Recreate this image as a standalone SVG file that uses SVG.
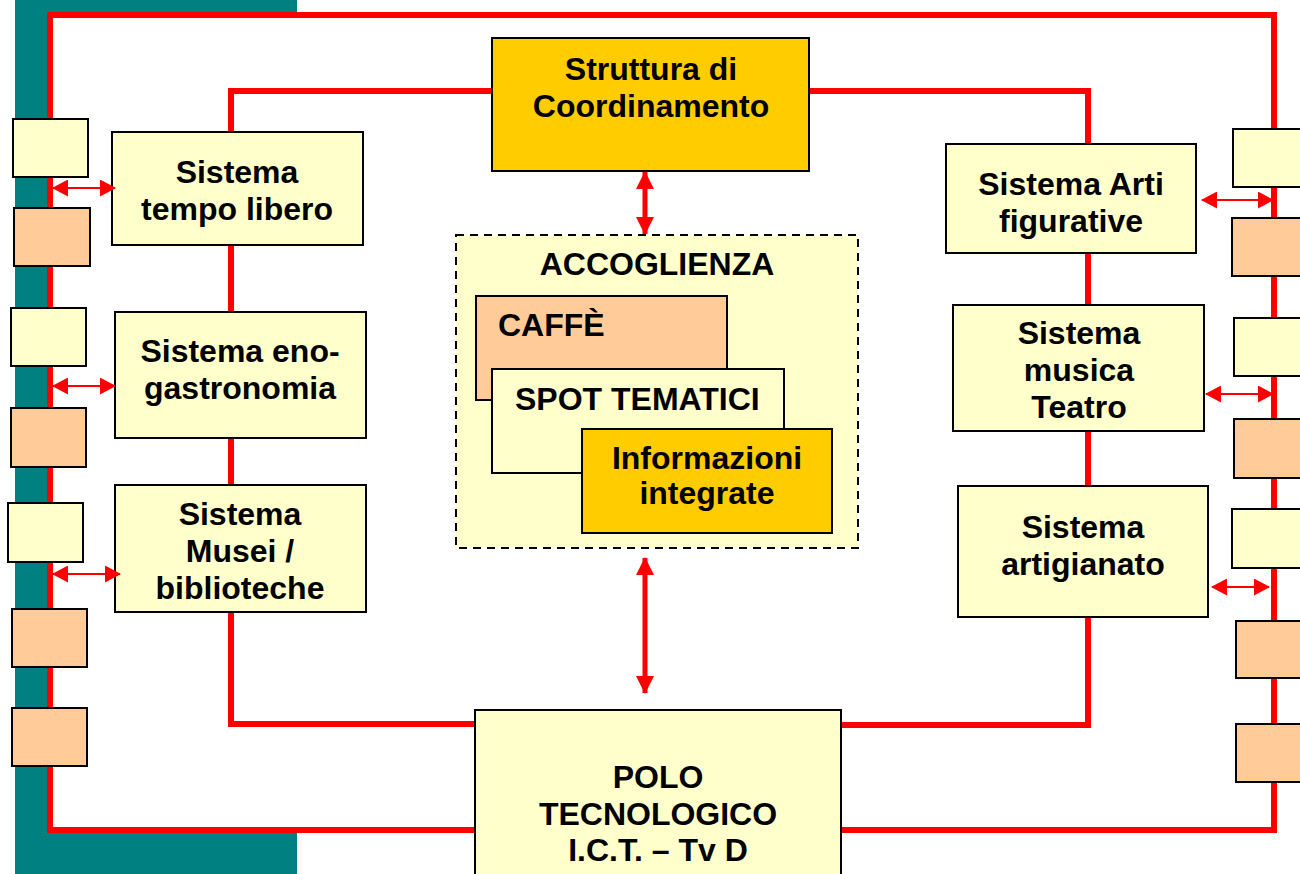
<svg xmlns="http://www.w3.org/2000/svg" width="1300" height="874" viewBox="0 0 1300 874">
<defs>
<style>
.box{stroke:#000;stroke-width:2}
.y{fill:#FFFFCC}.g{fill:#FFCC00}.p{fill:#FFCC99}
.t{font-family:"Liberation Sans",Arial,sans-serif;font-weight:bold;font-size:32px;fill:#000}
.c{text-anchor:middle}
.red{fill:none;stroke:#FF0000;stroke-width:6}
.thin{stroke:#FF0000;stroke-width:2;fill:none}
.thick{stroke:#FF0000;stroke-width:5;fill:none}
</style>
<marker id="ah" viewBox="0 0 16 17" refX="15" refY="8.5" markerWidth="16" markerHeight="17" markerUnits="userSpaceOnUse" orient="auto-start-reverse"><path d="M0,0 L16,8.5 L0,17 z" fill="#FF0000"/></marker>
<marker id="ahb" viewBox="0 0 18 18" refX="17" refY="9" markerWidth="18" markerHeight="18" markerUnits="userSpaceOnUse" orient="auto-start-reverse"><path d="M0,0 L18,9 L0,18 z" fill="#FF0000"/></marker>
</defs>
<rect x="0" y="0" width="1300" height="874" fill="#FFFFFF"/>
<rect x="15" y="0" width="282" height="874" fill="#008080"/>
<rect x="50" y="15" width="1224" height="815" fill="#FFFFFF"/>
<g id="connectors">
<rect x="50" y="15" width="1224" height="815" class="red"/>
<path class="red" d="M492 91 H231 V724 H475"/>
<path class="red" d="M809 91 H1088 V725 H841"/>
</g>
<g id="side-left">
<rect class="box y" x="13" y="119" width="75" height="58"/>
<rect class="box p" x="14" y="208" width="76" height="58"/>
<rect class="box y" x="11" y="308" width="75" height="58"/>
<rect class="box p" x="11" y="408" width="75" height="59"/>
<rect class="box y" x="8" y="503" width="75" height="59"/>
<rect class="box p" x="12" y="609" width="75" height="58"/>
<rect class="box p" x="12" y="708" width="75" height="58"/>
</g>
<g id="side-right">
<rect class="box y" x="1233" y="129" width="80" height="58"/>
<rect class="box p" x="1232" y="218" width="80" height="58"/>
<rect class="box y" x="1234" y="318" width="80" height="58"/>
<rect class="box p" x="1234" y="419" width="80" height="59"/>
<rect class="box y" x="1232" y="509" width="80" height="59"/>
<rect class="box p" x="1236" y="621" width="80" height="57"/>
<rect class="box p" x="1236" y="724" width="80" height="58"/>
</g>
<g id="coordinamento">
<rect class="box g" x="492" y="38" width="317" height="133"/>
<text class="t c" x="651" y="80">Struttura di</text>
<text class="t c" x="651" y="117">Coordinamento</text>
</g>
<g id="tempo-libero">
<rect class="box y" x="112" y="132" width="251" height="113"/>
<text class="t c" x="237" y="183">Sistema</text>
<text class="t c" x="237" y="220">tempo libero</text>
</g>
<g id="eno-gastronomia">
<rect class="box y" x="115" y="312" width="251" height="126"/>
<text class="t c" x="240" y="362">Sistema eno-</text>
<text class="t c" x="240" y="399">gastronomia</text>
</g>
<g id="musei">
<rect class="box y" x="115" y="485" width="251" height="127"/>
<text class="t c" x="240" y="525">Sistema</text>
<text class="t c" x="240" y="562">Musei /</text>
<text class="t c" x="240" y="599">biblioteche</text>
</g>
<g id="arti">
<rect class="box y" x="946" y="144" width="250" height="109"/>
<text class="t c" x="1071" y="195">Sistema Arti</text>
<text class="t c" x="1071" y="232">figurative</text>
</g>
<g id="musica">
<rect class="box y" x="953" y="305" width="251" height="126"/>
<text class="t c" x="1079" y="344">Sistema</text>
<text class="t c" x="1079" y="381">musica</text>
<text class="t c" x="1079" y="418">Teatro</text>
</g>
<g id="artigianato">
<rect class="box y" x="958" y="486" width="250" height="131"/>
<text class="t c" x="1083" y="538">Sistema</text>
<text class="t c" x="1083" y="575">artigianato</text>
</g>
<g id="accoglienza">
<rect x="456" y="235" width="402" height="313" fill="#FFFFCC" stroke="#000" stroke-width="2" stroke-dasharray="8 6"/>
<text class="t c" x="657" y="275">ACCOGLIENZA</text>
</g>
<g id="caffe">
<rect class="box p" x="476" y="296" width="251" height="104"/>
<text class="t" x="498" y="336">CAFFÈ</text>
</g>
<g id="spot">
<rect class="box y" x="492" y="369" width="292" height="104"/>
<text class="t" x="515" y="410">SPOT TEMATICI</text>
</g>
<g id="informazioni">
<rect class="box g" x="582" y="429" width="250" height="104"/>
<text class="t c" x="707" y="469">Informazioni</text>
<text class="t c" x="707" y="504">integrate</text>
</g>
<g id="polo">
<rect class="box y" x="475" y="710" width="366" height="180"/>
<text class="t c" x="658" y="788">POLO</text>
<text class="t c" x="658" y="825">TECNOLOGICO</text>
<text class="t c" x="658" y="861">I.C.T. – Tv D</text>
</g>
<g id="arrows">
<line class="thick" x1="645" y1="172" x2="645" y2="234" marker-start="url(#ahb)" marker-end="url(#ahb)"/>
<line class="thick" x1="645" y1="558" x2="645" y2="693" marker-start="url(#ahb)" marker-end="url(#ahb)"/>
<line class="thin" x1="53" y1="188" x2="115" y2="188" marker-start="url(#ah)" marker-end="url(#ah)"/>
<line class="thin" x1="53" y1="386" x2="115" y2="386" marker-start="url(#ah)" marker-end="url(#ah)"/>
<line class="thin" x1="53" y1="574" x2="120" y2="574" marker-start="url(#ah)" marker-end="url(#ah)"/>
<line class="thin" x1="1202" y1="200" x2="1273" y2="200" marker-start="url(#ah)" marker-end="url(#ah)"/>
<line class="thin" x1="1206" y1="394" x2="1273" y2="394" marker-start="url(#ah)" marker-end="url(#ah)"/>
<line class="thin" x1="1212" y1="587" x2="1269" y2="587" marker-start="url(#ah)" marker-end="url(#ah)"/>
</g>
</svg>
